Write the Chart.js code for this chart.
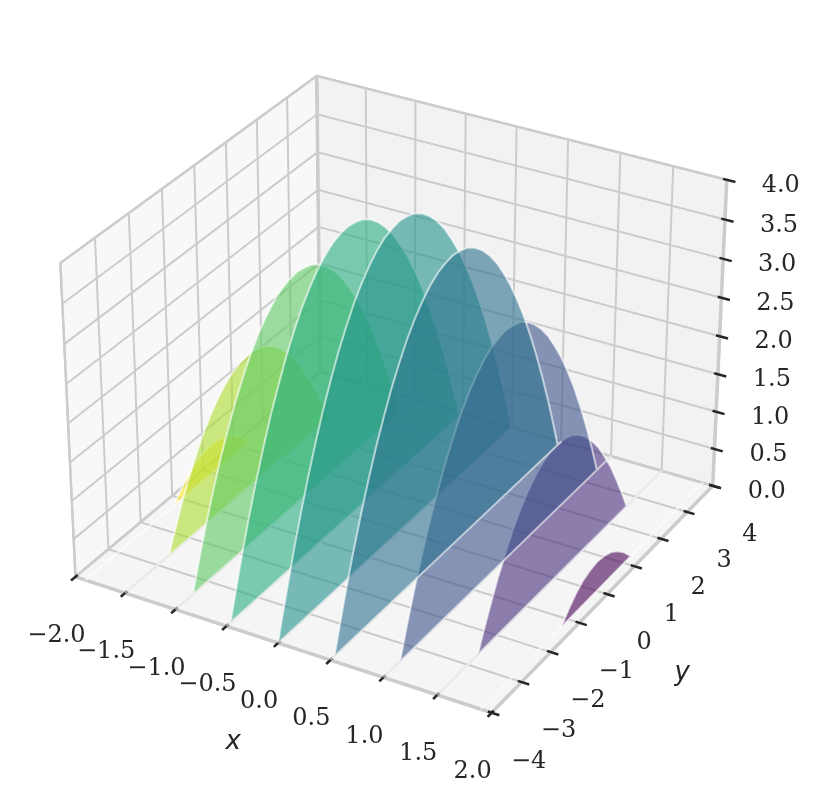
<!DOCTYPE html>
<html>
<head>
<meta charset="utf-8">
<title>Parabolic slices</title>
<script src="https://cdn.jsdelivr.net/npm/chart.js@4/dist/chart.umd.min.js"></script>
<style>
  html, body { margin: 0; background: #fff; }
  canvas { display: block; }
</style>
</head>
<body>
<canvas id="chart" width="820" height="804"></canvas>
<script>
// Tick values and their labels
const xTicks = [-2, -1.5, -1, -0.5, 0, 0.5, 1, 1.5, 2];
const xTickLabels = ['−2.0', '−1.5', '−1.0', '−0.5', '0.0', '0.5', '1.0', '1.5', '2.0'];
const yTicks = [-4, -3, -2, -1, 0, 1, 2, 3, 4];
const yTickLabels = ['−4', '−3', '−2', '−1', '0', '1', '2', '3', '4'];
const zTicks = [0, 0.5, 1, 1.5, 2, 2.5, 3, 3.5, 4];
const zTickLabels = ['0.0', '0.5', '1.0', '1.5', '2.0', '2.5', '3.0', '3.5', '4.0'];

// Slices, far to near. Every slice has a height for each value in sliceY.
const sliceX = [-1.9, -1.5, -1, -0.5, 0, 0.5, 1, 1.5, 1.9];
const sliceColors = ['#fde725', '#addc30', '#5ec962', '#28ae80', '#21918c', '#2c728e', '#3b528b', '#472d7b', '#440154'];
const sliceY = [-4, -3.87, -3.75, -3.5, -3.46, -3.25, -3, -2.75, -2.65, -2.5, -2.25, -2, -1.75, -1.5, -1.25, -1, -0.75, -0.5, -0.25, 0,
    0.25, 0.5, 0.75, 1, 1.25, 1.5, 1.75, 2, 2.25, 2.5, 2.65, 2.75, 3, 3.25, 3.46, 3.5, 3.75, 3.87, 4];
const heightsA = [0, 0, 0, 0, 0, 0, 0, 0, 0, 0, 0, 0, 0, 0, 0, 0.14, 0.25, 0.33, 0.37, 0.39,
    0.37, 0.33, 0.25, 0.14, 0, 0, 0, 0, 0, 0, 0, 0, 0, 0, 0, 0, 0, 0, 0];
const heightsB = [0, 0, 0, 0, 0, 0, 0, 0, 0, 0.19, 0.48, 0.75, 0.98, 1.19, 1.36, 1.5, 1.61, 1.69, 1.73, 1.75,
    1.73, 1.69, 1.61, 1.5, 1.36, 1.19, 0.98, 0.75, 0.48, 0.19, 0, 0, 0, 0, 0, 0, 0, 0, 0];
const heightsC = [0, 0, 0, 0, 0, 0.36, 0.75, 1.11, 1.24, 1.44, 1.73, 2, 2.23, 2.44, 2.61, 2.75, 2.86, 2.94, 2.98, 3,
    2.98, 2.94, 2.86, 2.75, 2.61, 2.44, 2.23, 2, 1.73, 1.44, 1.24, 1.11, 0.75, 0.36, 0, 0, 0, 0, 0];
const heightsD = [0, 0, 0.23, 0.69, 0.76, 1.11, 1.5, 1.86, 1.99, 2.19, 2.48, 2.75, 2.98, 3.19, 3.36, 3.5, 3.61, 3.69, 3.73, 3.75,
    3.73, 3.69, 3.61, 3.5, 3.36, 3.19, 2.98, 2.75, 2.48, 2.19, 1.99, 1.86, 1.5, 1.11, 0.76, 0.69, 0.23, 0, 0];
const heightsE = [0, 0.26, 0.48, 0.94, 1.01, 1.36, 1.75, 2.11, 2.24, 2.44, 2.73, 3, 3.23, 3.44, 3.61, 3.75, 3.86, 3.94, 3.98, 4,
    3.98, 3.94, 3.86, 3.75, 3.61, 3.44, 3.23, 3, 2.73, 2.44, 2.24, 2.11, 1.75, 1.36, 1.01, 0.94, 0.48, 0.26, 0];
const sliceHeights = [heightsA, heightsB, heightsC, heightsD, heightsE, heightsD, heightsC, heightsB, heightsA];
// Paint order of the slices: tall ones count as nearer, so x = 0.5 ends up on top
const paintOrder = [0, 1, 2, 3, 8, 7, 4, 6, 5];

const X_MIN = -2, X_MAX = 2, Y_MIN = -4, Y_MAX = 4, Z_MIN = 0, Z_MAX = 4;

// Camera: elev 30, azim -60, distance 10, box 4:4:3
const BOX = [1.1905, 1.1905, 0.8929];
const ELEV = 30 * Math.PI / 180, AZIM = -60 * Math.PI / 180, DIST = 10;
const W = [Math.cos(ELEV) * Math.cos(AZIM), Math.cos(ELEV) * Math.sin(AZIM), Math.sin(ELEV)];
const U = [-Math.sin(AZIM), Math.cos(AZIM), 0];
const V = [W[1] * U[2] - W[2] * U[1], W[2] * U[0] - W[0] * U[2], W[0] * U[1] - W[1] * U[0]];

function dot(a, b) {
    return a[0] * b[0] + a[1] * b[1] + a[2] * b[2];
}

function project(x, y, z) {
    const q = [
        ((x - X_MIN) / (X_MAX - X_MIN) - 0.5) * BOX[0],
        ((y - Y_MIN) / (Y_MAX - Y_MIN) - 0.5) * BOX[1],
        ((z - Z_MIN) / (Z_MAX - Z_MIN) - 0.5) * BOX[2]
    ];
    const depth = DIST - dot(W, q);
    return { x: dot(U, q) / depth, y: dot(V, q) / depth };
}

function path3d(points) {
    return points.map(p => project(p[0], p[1], p[2]));
}

const datasets = [];

function addLine(points, color, width) {
    datasets.push({
        data: path3d(points),
        showLine: true,
        fill: false,
        borderColor: color,
        borderWidth: width,
        pointRadius: 0
    });
}

function addShape(points, fillColor, edgeColor, width) {
    datasets.push({
        data: path3d(points),
        showLine: true,
        fill: 'shape',
        backgroundColor: fillColor,
        borderColor: edgeColor,
        borderWidth: width,
        borderJoinStyle: 'round',
        pointRadius: 0
    });
}

// Panes
const PANE_EDGE = '#cccccc';
addShape([[X_MIN, Y_MIN, Z_MIN], [X_MIN, Y_MAX, Z_MIN], [X_MIN, Y_MAX, Z_MAX], [X_MIN, Y_MIN, Z_MAX], [X_MIN, Y_MIN, Z_MIN]],
    'rgba(242, 242, 242, 0.5)', PANE_EDGE, 2.5);
addShape([[X_MIN, Y_MAX, Z_MIN], [X_MAX, Y_MAX, Z_MIN], [X_MAX, Y_MAX, Z_MAX], [X_MIN, Y_MAX, Z_MAX], [X_MIN, Y_MAX, Z_MIN]],
    'rgba(230, 230, 230, 0.5)', PANE_EDGE, 2.5);
addShape([[X_MIN, Y_MIN, Z_MIN], [X_MAX, Y_MIN, Z_MIN], [X_MAX, Y_MAX, Z_MIN], [X_MIN, Y_MAX, Z_MIN], [X_MIN, Y_MIN, Z_MIN]],
    'rgba(236, 236, 236, 0.5)', PANE_EDGE, 2.5);

// Grid
xTicks.forEach(t => addLine([[t, Y_MIN, Z_MIN], [t, Y_MAX, Z_MIN], [t, Y_MAX, Z_MAX]], PANE_EDGE, 2));
yTicks.forEach(t => addLine([[X_MAX, t, Z_MIN], [X_MIN, t, Z_MIN], [X_MIN, t, Z_MAX]], PANE_EDGE, 2));
zTicks.forEach(t => addLine([[X_MIN, Y_MIN, t], [X_MIN, Y_MAX, t], [X_MAX, Y_MAX, t]], PANE_EDGE, 2));

// Axis lines and the back corner
addLine([[X_MIN, Y_MIN, Z_MIN], [X_MAX, Y_MIN, Z_MIN], [X_MAX, Y_MAX, Z_MIN], [X_MAX, Y_MAX, Z_MAX]], PANE_EDGE, 3.5);
addLine([[X_MIN, Y_MAX, Z_MIN], [X_MIN, Y_MAX, Z_MAX]], PANE_EDGE, 3.5);

// Tick marks
const TICK_COLOR = '#262626';
xTicks.forEach(t => addLine([[t, Y_MIN + 0.067, Z_MIN], [t, Y_MIN - 0.133, Z_MIN]], TICK_COLOR, 2.5));
yTicks.forEach(t => addLine([[X_MAX - 0.035, t, Z_MIN], [X_MAX + 0.07, t, Z_MIN]], TICK_COLOR, 2.5));
zTicks.forEach(t => addLine([[X_MAX - 0.035, Y_MAX, t], [X_MAX + 0.08, Y_MAX, t]], TICK_COLOR, 2.5));

function hexToRgba(hex, alpha) {
    const n = parseInt(hex.slice(1), 16);
    return `rgba(${n >> 16}, ${(n >> 8) & 255}, ${n & 255}, ${alpha})`;
}

// Slices
paintOrder.forEach(i => {
    const outline = sliceY.map((y, j) => [sliceX[i], y, sliceHeights[i][j]]);
    outline.push(outline[0]);
    addShape(outline, hexToRgba(sliceColors[i], 0.6), 'rgba(255, 255, 255, 0.6)', 2);
});

// First dataset has to be painted first
datasets.forEach((d, i) => { d.order = datasets.length - i; });

const textPlugin = {
    id: 'axisText',
    afterDraw(chart) {
        const { ctx, scales } = chart;
        const put = (text, p, dx, dy) => {
            ctx.fillText(text, scales.x.getPixelForValue(p.x) + dx, scales.y.getPixelForValue(p.y) + dy);
        };
        ctx.save();
        ctx.fillStyle = '#262626';
        ctx.textAlign = 'center';
        ctx.textBaseline = 'middle';
        ctx.font = '24px "DejaVu Serif"';
        xTicks.forEach((t, i) => put(xTickLabels[i], project(t, Y_MIN, Z_MIN), -19, 59));
        yTicks.forEach((t, i) => put(yTickLabels[i], project(X_MAX, t, Z_MIN), 37, 49));
        zTicks.forEach((t, i) => put(zTickLabels[i], project(X_MAX, Y_MAX, t), 54, 6));
        ctx.font = 'italic 26px "DejaVu Sans"';
        put('x', project(0, Y_MIN, Z_MIN), -45, 99);
        put('y', project(X_MAX, 0, Z_MIN), 75, 79);
        ctx.restore();
    }
};

// Scale ranges put the projected box where it sits on the page
new Chart(document.getElementById('chart'), {
    type: 'scatter',
    data: { datasets },
    options: {
        responsive: false,
        animation: false,
        events: [],
        layout: { padding: 0 },
        plugins: { legend: { display: false }, tooltip: { enabled: false } },
        scales: {
            x: { display: false, min: -400 / 4005, max: 420 / 4005 },
            y: { display: false, min: -425 / 4005, max: 379 / 4005 }
        }
    },
    plugins: [textPlugin]
});
</script>
</body>
</html>
